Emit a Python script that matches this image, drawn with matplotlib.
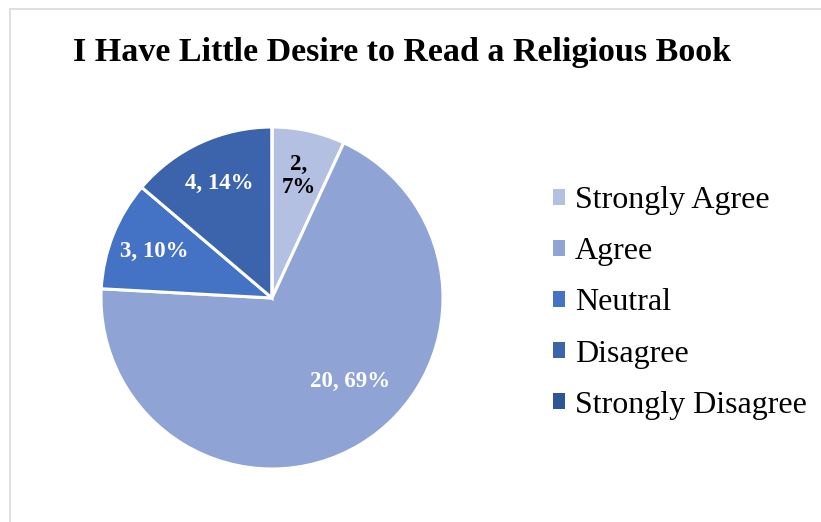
import numpy as np
import matplotlib
matplotlib.use("Agg")
import matplotlib.pyplot as plt
from matplotlib.patches import Patch, Rectangle

# Data
categories = ["Strongly Agree", "Agree", "Neutral", "Disagree", "Strongly Disagree"]
counts = [2, 20, 3, 4, 0]
title = "I Have Little Desire to Read a Religious Book"

# Style
colors = ["#B4C0E2", "#8FA4D5", "#4472C4", "#3B64AD", "#2F5597"]
label_colors = ["black", "white", "white", "white", "white"]
label_seps = [",\n", ", ", ", ", ", ", ", "]
label_r = [0.73, 0.67, 0.74, 0.74, 0.74]
label_shift = [0, 12, 0, 0, 0]

plt.rcParams['font.family'] = ['Liberation Serif', 'DejaVu Serif']

W, H = 821, 522
fig = plt.figure(figsize=(W / 100, H / 100), dpi=100)

# chart border
fig.patches.append(Rectangle((10 / W, -0.05), 1.2, (H - 9) / H + 0.05,
                             transform=fig.transFigure, fill=False,
                             edgecolor="#D9D9D9", linewidth=1.2))

cx, cy, R = 272, 298, 171
ax = fig.add_axes([(cx - R) / W, (H - cy - R) / H, 2 * R / W, 2 * R / H])
wedges, _ = ax.pie(counts, colors=colors, startangle=90, counterclock=False,
                   radius=1.0,
                   wedgeprops=dict(edgecolor="white", linewidth=2.2))
ax.set_xlim(-1.0, 1.0)
ax.set_ylim(-1.0, 1.0)
ax.set_aspect("equal")
ax.axis("off")

total = sum(counts)
for i, (w, c) in enumerate(zip(wedges, counts)):
    if c == 0:
        continue
    ang = np.deg2rad((w.theta1 + w.theta2) / 2 + label_shift[i])
    x = label_r[i] * np.cos(ang)
    y = label_r[i] * np.sin(ang)
    pct = round(100 * c / total)
    ax.text(x, y, f"{c}{label_seps[i]}{pct}%", ha="center", va="center",
            fontsize=16.5, fontweight="bold", color=label_colors[i],
            linespacing=1.15)

fig.text(402 / W, 1 - 53 / H, title, ha="center", va="center",
         fontsize=24.5, fontweight="bold")

handles = [Patch(facecolor=col, edgecolor="none") for col in colors]
fig.legend(handles, categories, loc="center left",
           bbox_to_anchor=(553 / W, 1 - 303 / H), frameon=False,
           fontsize=23, handlelength=0.37, handleheight=0.37,
           handletextpad=0.32, labelspacing=0.69, borderpad=0,
           borderaxespad=0)

fig.savefig("out.png", dpi=100)
